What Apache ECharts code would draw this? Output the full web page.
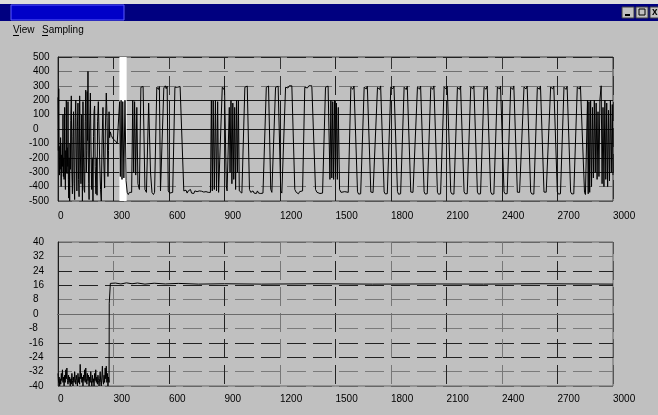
<!DOCTYPE html>
<html>
<head>
<meta charset="utf-8" />
<title>Sampling</title>
<script src="https://cdn.jsdelivr.net/npm/echarts@6/dist/echarts.min.js"></script>
<style>
  html, body { margin: 0; padding: 0; background: #c0c0c0; }
  #main { width: 658px; height: 415px; }
</style>
</head>
<body>
<div id="main"></div>
<script type="text/javascript">
// axis ticks
var xTicks = [0, 300, 600, 900, 1200, 1500, 1800, 2100, 2400, 2700, 3000];
var upperTicks = [-500, -400, -300, -200, -100, 0, 100, 200, 300, 400, 500];
var lowerTicks = [-40, -32, -24, -16, -8, 0, 8, 16, 24, 32, 40];
var upperSolidLevels = [200, 100, 0, -100, -200, -300];
var lowerSolidLevels = [0];
var cursorBand = [332, 371];

// upper trace in pieces
var startBurst = [
  [0, 220], [2, -150], [4, 280], [6, -200], [8, -320], [10, -120], [12, -280], [14, -60], [16, -250], [17, -400],
  [19, -180], [21, -300], [23, -100], [25, -260], [27, 100], [29, -330], [31, -200], [33, -350], [35, -90], [36, 150],
  [38, -250], [40, -420], [42, -150], [44, -300], [45, 200], [47, -200], [49, -310], [51, -130], [53, -260], [54, 190],
  [56, -350], [58, -480], [60, -200], [62, -340], [63, -500], [65, -100], [67, -280], [69, 60], [72, 230], [75, -300],
  [78, -450], [81, -50], [84, 120], [87, -380], [90, -490], [93, 80], [96, 200], [99, -200], [102, -430], [105, 20],
  [108, 180], [111, -350], [114, -470], [117, 230], [120, -100], [124, -380], [128, 100], [132, -500], [135, 190], [138, -200],
  [141, -420], [144, -440], [147, 50], [150, 270], [153, -300], [156, -150], [158, 260], [160, -80], [162, 400], [164, -200],
  [166, -380], [168, -490], [171, 0], [175, 250], [178, -100], [182, -420], [186, -200], [189, -500], [192, -50], [195, 120],
  [198, 160], [201, -260], [205, -450], [208, -200], [211, -460], [214, 50], [218, 190], [222, 200], [226, -250], [230, -420],
  [234, -500], [238, -100], [243, 150], [247, -200], [252, -410], [256, 0], [261, 250], [265, 80], [270, -330], [273, -150],
  [276, 120], [279, -60], [283, -20], [288, -45], [293, -40], [298, -70], [305, -65], [312, -85], [320, -100], [327, -110]
];
var earlyPulses = [
  [330, -110], [333, 190], [337, -330], [341, 200], [346, -350], [350, 190], [356, -340], [362, 200], [368, -360], [374, -440],
  [380, -455], [386, -440], [391, -450], [398, -440], [404, 200], [409, -300], [414, 190], [420, -320], [426, 150], [432, -380],
  [440, -420], [448, 290], [452, 300], [456, 280], [460, 295], [470, -420], [478, -440], [490, 180], [500, -300], [508, -440],
  [516, -455], [522, -440], [534, 290], [538, 300], [543, 275], [548, 295], [554, -430], [562, -440], [572, 285], [580, 300],
  [585, 280], [590, 298], [596, -430], [604, -445], [612, -450], [620, -440], [632, 290], [638, 300], [645, 290], [652, 300],
  [660, 295], [668, 300], [680, -430], [686, -440], [692, -425], [698, -445], [704, -430], [710, -440], [716, -420], [722, -445],
  [728, -435], [734, -448], [740, -430], [746, -440], [752, -435], [758, -445], [764, -430], [770, -440], [776, -432], [782, -445],
  [788, -438], [794, -442], [800, -435], [806, -445], [812, -440], [818, -438]
];
var midPulses = [
  [824, -440], [829, 200], [834, -430], [839, 195], [845, -420], [851, 200], [857, -430], [863, 190], [868, -440], [878, -440],
  [888, 290], [892, 300], [896, 275], [900, 295], [910, -400], [914, -430], [920, -440], [926, 150], [930, -300], [935, 200],
  [940, -380], [945, 180], [950, -350], [955, 150], [960, -420], [965, 200], [970, -300], [975, 200], [980, -430], [986, -440],
  [994, -445], [1010, 290], [1014, 300], [1018, 280], [1023, 298], [1035, -420], [1042, -440], [1048, -445], [1054, -430], [1060, -445],
  [1066, -435], [1072, -448], [1078, -430], [1084, -445], [1090, -438], [1096, -448], [1102, -440], [1108, -445], [1114, -440], [1126, 290],
  [1130, 300], [1134, 280], [1138, 298], [1150, -420], [1156, -440], [1162, -448], [1176, 290], [1180, 300], [1185, 280], [1190, 297],
  [1204, -430], [1210, -445], [1216, -440], [1230, 290], [1236, 300], [1243, 285], [1250, 300], [1257, 290], [1264, 300], [1280, -420],
  [1288, -440], [1294, -430], [1300, -450], [1306, -435], [1312, -445], [1322, -430], [1334, 290], [1340, 300], [1348, 285], [1356, 300],
  [1364, 290], [1372, 300], [1380, 295], [1392, -420], [1400, -440], [1408, -430], [1416, -448], [1424, -438], [1430, -445], [1446, 290],
  [1450, 300], [1455, 280], [1460, 298], [1470, -350], [1475, 200], [1480, -340], [1485, 190], [1490, -350], [1495, 200], [1500, -330],
  [1505, 180], [1510, -350], [1515, 150], [1522, -420], [1530, -440], [1540, -450], [1550, -435], [1558, -445]
];
var regularPulses = [
  [1569, -440], [1583, 290], [1589, 300], [1594, 276], [1600, 298], [1605, 289], [1619, -436], [1625, -452], [1631, -440], [1636, -450],
  [1641, -442], [1655, 291], [1661, 301], [1666, 278], [1672, 297], [1677, 288], [1691, -438], [1697, -450], [1703, -441], [1708, -452],
  [1713, -440], [1727, 289], [1733, 300], [1738, 275], [1744, 299], [1749, 290], [1763, -437], [1769, -451], [1775, -439], [1780, -449],
  [1785, -441], [1799, 292], [1805, 302], [1810, 279], [1816, 298], [1821, 287], [1835, -435], [1841, -453], [1847, -442], [1852, -450],
  [1857, -443], [1871, 290], [1877, 299], [1882, 274], [1888, 297], [1893, 289], [1907, -438], [1913, -450], [1919, -440], [1924, -451],
  [1929, -441], [1943, 291], [1949, 301], [1954, 277], [1960, 298], [1965, 288], [1979, -436], [1985, -452], [1991, -441], [1996, -449],
  [2001, -440], [2015, 289], [2021, 300], [2026, 276], [2032, 299], [2037, 290], [2051, -439], [2057, -453], [2063, -440], [2068, -450],
  [2073, -442], [2087, 292], [2093, 301], [2098, 278], [2104, 297], [2109, 288], [2123, -437], [2129, -451], [2135, -442], [2140, -452],
  [2145, -440], [2159, 290], [2165, 300], [2170, 275], [2176, 298], [2181, 289], [2195, -436], [2201, -450], [2207, -439], [2212, -449],
  [2217, -441], [2231, 291], [2237, 302], [2242, 279], [2248, 299], [2253, 287], [2267, -438], [2273, -452], [2279, -441], [2284, -450],
  [2289, -443], [2303, 289], [2309, 299], [2314, 276], [2320, 298], [2325, 290], [2339, -437], [2345, -453], [2351, -440], [2356, -451],
  [2361, -440], [2375, 292], [2381, 301], [2386, 277], [2392, 297], [2397, 288], [2411, -436], [2417, -450], [2423, -442], [2428, -449],
  [2433, -442], [2447, 290], [2453, 300], [2458, 275], [2464, 299], [2469, 289], [2483, -439], [2489, -452], [2495, -440], [2500, -450],
  [2505, -441], [2519, 291], [2525, 301], [2530, 278], [2536, 298], [2541, 288], [2555, -437], [2561, -451], [2567, -441], [2572, -452],
  [2577, -440], [2591, 289], [2597, 300], [2602, 276], [2608, 299], [2613, 290], [2627, -438], [2633, -450], [2639, -439], [2644, -449],
  [2649, -442], [2663, 292], [2669, 302], [2674, 277], [2680, 297], [2685, 287], [2699, -436], [2705, -452], [2711, -442], [2716, -450],
  [2721, -441], [2735, 290], [2741, 299], [2746, 275], [2752, 298], [2757, 289], [2771, -437], [2777, -451], [2783, -440], [2788, -450],
  [2793, -440], [2807, 291], [2813, 301], [2818, 278], [2824, 298], [2832, 290], [2846, -440], [2851, -455]
];
var endBurst = [
  [2858, -455], [2862, 200], [2866, -450], [2870, 190], [2874, -440], [2879, 200], [2884, -400], [2889, 150], [2894, -340], [2899, 200],
  [2904, -300], [2909, 180], [2914, -350], [2919, 120], [2924, -330], [2929, 200], [2936, 300], [2941, -380], [2946, 150], [2951, -400],
  [2956, 200], [2961, -350], [2966, 180], [2971, -400], [2976, 130], [2981, -360], [2986, 200], [2991, -300], [2996, 170], [3000, -320]
];

// lower trace
var lowerNoise = [
  [0, -33], [3, -38], [6, -35], [9, -40], [12, -36], [15, -39], [18, -33], [21, -37], [24, -31], [27, -38],
  [30, -35], [33, -40], [36, -34], [39, -38], [42, -31], [45, -36], [48, -30], [51, -37], [54, -39], [57, -34],
  [60, -38], [63, -35], [66, -40], [69, -36], [72, -39], [75, -33], [78, -37], [81, -40], [84, -35], [87, -38],
  [90, -32], [93, -36], [96, -39], [99, -34], [102, -37], [105, -40], [108, -33], [111, -38], [114, -35], [117, -39],
  [120, -28], [123, -36], [126, -33], [129, -38], [132, -35], [135, -40], [138, -34], [141, -37], [144, -31], [147, -38],
  [150, -30], [153, -36], [156, -39], [159, -33], [162, -37], [165, -34], [168, -40], [171, -35], [174, -38], [177, -32],
  [180, -37], [183, -40], [186, -34], [189, -38], [192, -36], [195, -40], [198, -33], [201, -37], [204, -31], [207, -38],
  [210, -35], [213, -39], [216, -34], [219, -37], [222, -40], [225, -36], [228, -32], [231, -38], [234, -40], [237, -35],
  [240, -29], [243, -37], [246, -39], [249, -34], [252, -38], [255, -30], [258, -36], [261, -29], [264, -38], [267, -33],
  [270, -40], [273, -35], [276, -38]
];
var lowerStep = [
  [277, 6], [282, 6], [283, 17], [310, 17.2], [340, 16.7], [370, 17.3], [400, 16.8], [430, 17.2], [470, 16.6], [520, 17.1],
  [580, 16.7], [650, 17], [760, 16.6], [900, 16.8], [1100, 16.6], [1400, 16.8], [1700, 16.6], [2000, 16.7], [2300, 16.6], [2600, 16.8],
  [3000, 16.6]
];

var upperSignal = startBurst.concat(earlyPulses, midPulses, regularPulses, endBurst);
var lowerSignal = lowerNoise.concat(lowerStep);

var font = 'Liberation Sans, Arial, sans-serif';
var myChart = echarts.init(document.getElementById('main'));

function yLabel(v) {
  return v < 0 ? '{n|' + v + '}' : '{p|' + v + '}';
}
var yRich = {
  p: { padding: [0, 0, 0, 4], fontSize: 10, fontFamily: font, color: '#000' },
  n: { fontSize: 10, fontFamily: font, color: '#000' }
};

function xAxisCfg(idx, margin, colors) {
  return {
    type: 'value', gridIndex: idx, min: 0, max: 3000, interval: 300,
    axisLine: { show: true, lineStyle: { color: '#1a1a1a', width: 1 } },
    axisTick: { show: false },
    axisLabel: { align: 'left', margin: margin, fontSize: 10, fontFamily: font, color: '#000',
      formatter: function (v) { return xTicks.indexOf(v) >= 0 ? String(v) : ''; } },
    splitLine: { show: true, lineStyle: { color: colors, width: 1, type: [19, 7], dashOffset: 7 } }
  };
}
function yAxisCfg(idx, lo, hi, step, colors) {
  return {
    type: 'value', gridIndex: idx, min: lo, max: hi, interval: step,
    axisLine: { show: true, lineStyle: { color: '#1a1a1a', width: 1 } },
    axisTick: { show: false },
    axisLabel: { align: 'left', margin: 29, formatter: yLabel, rich: yRich },
    splitLine: { show: true, lineStyle: { color: colors, width: 1, type: [19, 7], dashOffset: 5 } }
  };
}

var upperVertSolid = [];
xTicks.slice(1, -1).forEach(function (t) {
  upperVertSolid.push([{ coord: [t, 200] }, { coord: [t, -500] }]);
});
var upperMarks = upperSolidLevels.map(function (v) { return { yAxis: v }; }).concat(upperVertSolid);

var option = {
  backgroundColor: '#c0c0c0',
  animation: false,
  grid: [
    { left: 58, top: 57, width: 555, height: 144, show: true, borderColor: '#3c3c3c', borderWidth: 1 },
    { left: 58, top: 242, width: 555, height: 144, show: true, borderColor: '#666', borderWidth: 1 }
  ],
  xAxis: [
    xAxisCfg(0, 10, ['#333', '#222', '#333', '#222', '#333', '#222', '#333', '#222', '#333', '#222', '#333']),
    xAxisCfg(1, 8, ['#444', '#777', '#222', '#222', '#777', '#222', '#777', '#222', '#777', '#222', '#555'])
  ],
  yAxis: [
    yAxisCfg(0, -500, 500, 100, ['#555', '#707070', '#707070', '#707070', '#707070', '#707070', '#707070', '#707070', '#707070', '#707070', '#222']),
    yAxisCfg(1, -40, 40, 8, ['#666', '#7a7a7a', '#222', '#222', '#7a7a7a', '#7a7a7a', '#7a7a7a', '#222', '#222', '#7a7a7a', '#666'])
  ],
  series: [
    {
      type: 'line', xAxisIndex: 0, yAxisIndex: 0, data: upperSignal,
      showSymbol: false, symbol: 'none', silent: true, z: 3,
      lineStyle: { color: '#000', width: 1 },
      markLine: {
        silent: true, symbol: 'none', z: 1, animation: false,
        label: { show: false },
        lineStyle: { type: 'solid', color: '#1a1a1a', width: 1 },
        emphasis: { disabled: true },
        data: upperMarks
      },
      markArea: {
        silent: true, z: 2,
        itemStyle: { color: '#ffffff' },
        data: [[{ xAxis: cursorBand[0] }, { xAxis: cursorBand[1] }]]
      }
    },
    {
      type: 'line', xAxisIndex: 1, yAxisIndex: 1, data: lowerSignal,
      showSymbol: false, symbol: 'none', silent: true, z: 3,
      lineStyle: { color: '#000', width: 1 },
      markLine: {
        silent: true, symbol: 'none', z: 1, animation: false,
        label: { show: false },
        lineStyle: { type: 'solid', color: '#6a6a6a', width: 1 },
        emphasis: { disabled: true },
        data: lowerSolidLevels.map(function (v) { return { yAxis: v }; })
      }
    }
  ],
  graphic: [
    { type: 'rect', shape: { x: 0, y: 0, width: 658, height: 4 }, style: { fill: '#dcdcdc' } },
    { type: 'rect', shape: { x: 0, y: 4, width: 658, height: 17 }, style: { fill: '#000080' } },
    { type: 'rect', shape: { x: 11, y: 5, width: 113, height: 15 }, style: { fill: '#0000c8', stroke: '#5a5aff', lineWidth: 1 } },
    { type: 'rect', shape: { x: 622, y: 7, width: 12, height: 11 }, style: { fill: '#c0c0c0', stroke: '#404040', lineWidth: 1 } },
    { type: 'rect', shape: { x: 636, y: 7, width: 12, height: 11 }, style: { fill: '#c0c0c0', stroke: '#404040', lineWidth: 1 } },
    { type: 'rect', shape: { x: 650, y: 7, width: 12, height: 11 }, style: { fill: '#c0c0c0', stroke: '#404040', lineWidth: 1 } },
    { type: 'line', shape: { x1: 625, y1: 15, x2: 630, y2: 15 }, style: { stroke: '#000', lineWidth: 2 } },
    { type: 'rect', shape: { x: 639, y: 9, width: 6, height: 6 }, style: { fill: 'none', stroke: '#000', lineWidth: 1 } },
    { type: 'text', x: 652, y: 12, style: { text: 'x', font: 'bold 10px ' + font, fill: '#000', verticalAlign: 'middle' } },
    { type: 'text', x: 13, y: 30, style: { text: 'View', font: '10px ' + font, fill: '#000', verticalAlign: 'middle' } },
    { type: 'text', x: 42, y: 30, style: { text: 'Sampling', font: '10px ' + font, fill: '#000', verticalAlign: 'middle' } },
    { type: 'line', shape: { x1: 13, y1: 35.5, x2: 19, y2: 35.5 }, style: { stroke: '#000', lineWidth: 1 } },
    { type: 'line', shape: { x1: 42, y1: 35.5, x2: 48, y2: 35.5 }, style: { stroke: '#000', lineWidth: 1 } }
  ]
};

myChart.setOption(option);
</script>
</body>
</html>
